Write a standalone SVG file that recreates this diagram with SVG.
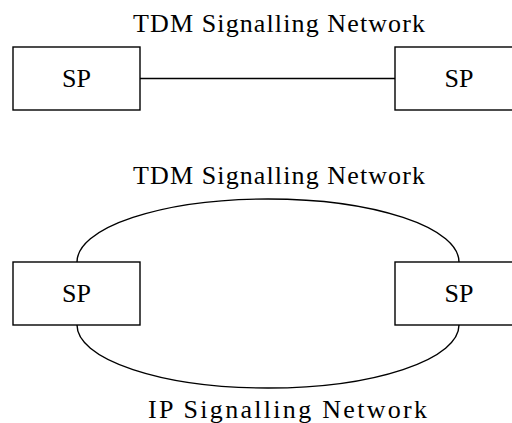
<svg xmlns="http://www.w3.org/2000/svg" width="512" height="423" viewBox="0 0 512 423">
<style>
.box{fill:#fff;stroke:#000;stroke-width:1.4}
.ln{fill:none;stroke:#000;stroke-width:1.4}
.t{font-family:"Liberation Serif",serif;font-size:26px;fill:#000}
.lbl{font-family:"Liberation Serif",serif;font-size:26px;fill:#000;text-anchor:middle}
</style>
<rect width="512" height="423" fill="#fff"/>
<g id="connectors">
<line class="ln" x1="140" y1="78.5" x2="395" y2="78.5"/>
<path class="ln" d="M77,262 A191,63 0 0 1 459,262"/>
<path class="ln" d="M77,325 A191,63 0 0 0 459,325"/>
</g>
<text class="t" x="133" y="32" textLength="292" lengthAdjust="spacing">TDM Signalling Network</text>
<text class="t" x="133" y="184" textLength="292" lengthAdjust="spacing">TDM Signalling Network</text>
<text class="t" x="148" y="418" textLength="279" lengthAdjust="spacing">IP Signalling Network</text>
<g id="sp1"><rect class="box" x="13" y="47" width="127" height="63"/><text class="lbl" x="76.5" y="86.5">SP</text></g>
<g id="sp2"><rect class="box" x="395" y="47" width="127" height="63"/><text class="lbl" x="459" y="86.5">SP</text></g>
<g id="sp3"><rect class="box" x="13" y="262" width="127" height="63"/><text class="lbl" x="76.5" y="302">SP</text></g>
<g id="sp4"><rect class="box" x="395" y="262" width="127" height="63"/><text class="lbl" x="459" y="302">SP</text></g>
</svg>
